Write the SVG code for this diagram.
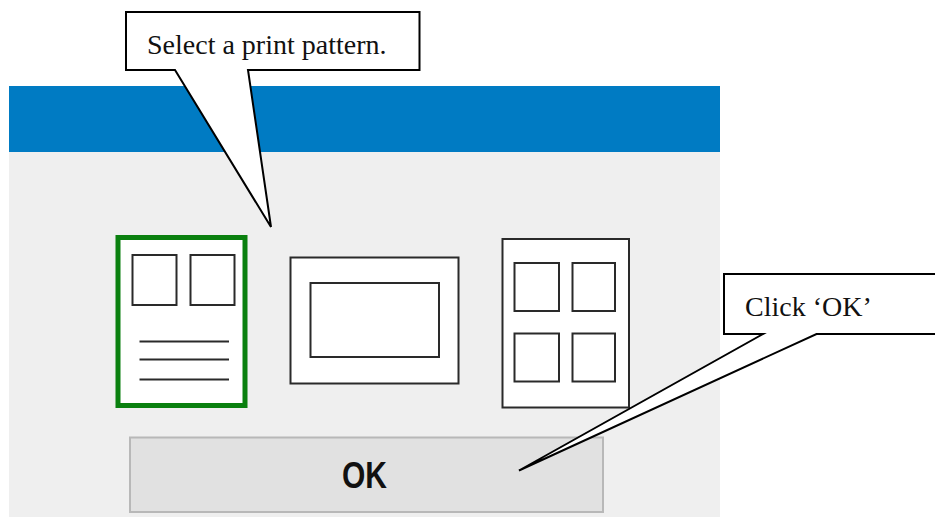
<svg xmlns="http://www.w3.org/2000/svg" width="935" height="517" viewBox="0 0 935 517">
<style>
.pg{fill:#fff;stroke:#2a2a2a;stroke-width:2}
.ln{stroke:#2a2a2a;stroke-width:2;fill:none}
.co{fill:#fff;stroke:#000;stroke-width:2;stroke-linejoin:miter}
.t{font-family:"Liberation Serif","Times New Roman",serif;font-size:28px;fill:#111}
</style>
<rect width="935" height="517" fill="#fff"/>
<g id="dialog">
<rect x="9" y="86" width="711" height="431" fill="#efefef"/>
<rect x="9" y="86" width="711" height="66" fill="#007bc3"/>
</g>
<g id="pattern-1">
<rect x="118" y="237.500" width="127" height="168" fill="#fff" stroke="#0a800f" stroke-width="5"/>
<rect class="pg" x="132.500" y="255" width="44" height="50"/>
<rect class="pg" x="190.500" y="255" width="44" height="50"/>
<path class="ln" d="M139.500 341.500H229M139.500 359.500H229M139.500 379.500H229"/>
</g>
<g id="pattern-2">
<rect class="pg" x="290.500" y="257.500" width="168" height="126"/>
<rect class="pg" x="310.500" y="283" width="128.500" height="74"/>
</g>
<g id="pattern-3">
<rect class="pg" x="502.500" y="239" width="126.500" height="168.500"/>
<rect class="pg" x="514.500" y="263" width="44.500" height="48"/>
<rect class="pg" x="572.500" y="263" width="42.500" height="48"/>
<rect class="pg" x="514.500" y="333.500" width="44.500" height="48"/>
<rect class="pg" x="572.500" y="333.500" width="42.500" height="48"/>
</g>
<g id="ok-button">
<rect x="130" y="437.500" width="473" height="74.500" fill="#e1e1e1" stroke="#b8b8b8" stroke-width="2"/>
<text x="342" y="488" font-family="'Liberation Sans',Arial,sans-serif" font-size="37" font-weight="700" fill="#111" textLength="45" lengthAdjust="spacingAndGlyphs">OK</text>
</g>
<g id="connectors">
<path id="callout-select" class="co" d="M126 12H419.500V70H248L271 227L175 70H126Z"/>
<path id="callout-ok" class="co" d="M936 274H724V334H763L519 470.500L816.500 334H936"/>
</g>
<g id="labels">
<text class="t" x="147" y="54">Select a print pattern.</text>
<text class="t" x="745" y="316">Click ‘OK’</text>
</g>
</svg>
